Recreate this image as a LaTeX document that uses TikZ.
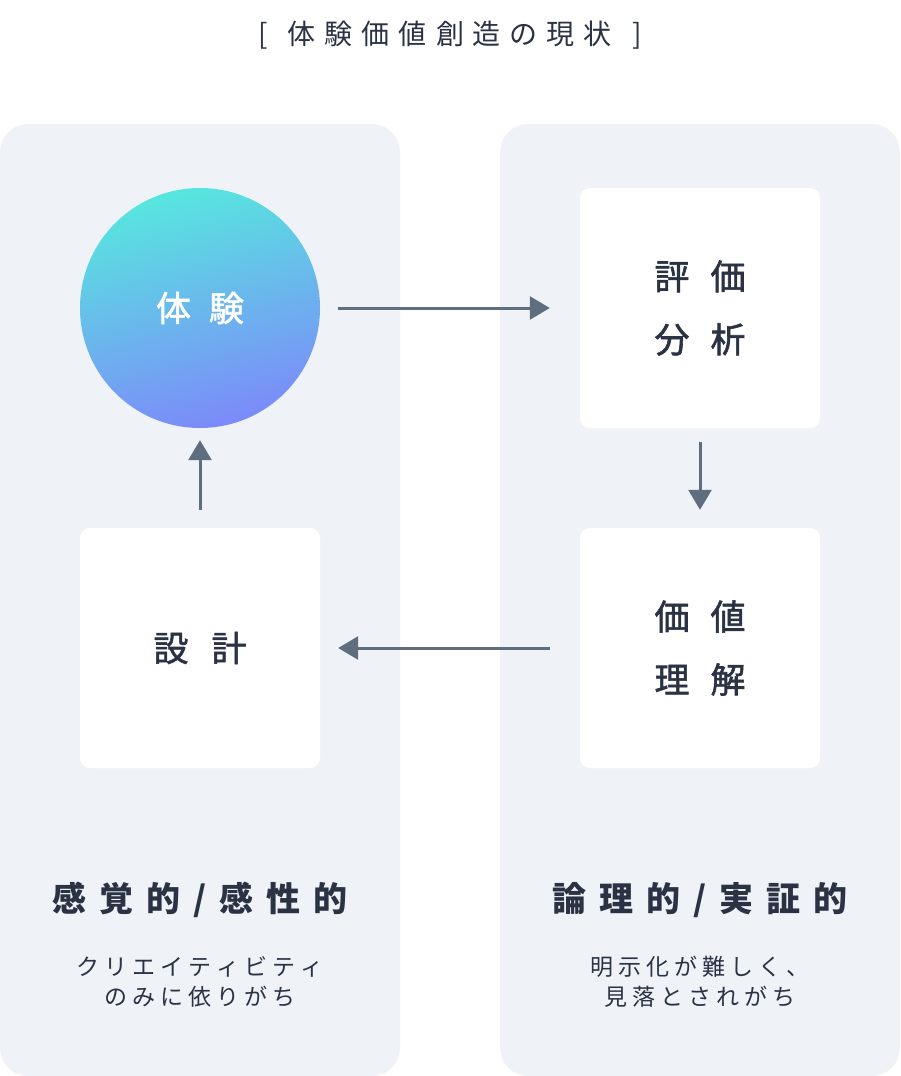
\documentclass[tikz,border=0pt]{standalone}
\usepackage{fontspec}
\setmainfont{Noto Sans CJK JP}
\newfontfamily\jpmid[FakeBold=1.6]{Noto Sans CJK JP}
\usetikzlibrary{arrows.meta}
\definecolor{panel}{HTML}{EFF3F8}
\definecolor{ink}{HTML}{2A3244}
\definecolor{arrowc}{HTML}{5E6E7E}
\definecolor{cyanA}{HTML}{57E6DF}
\definecolor{violetA}{HTML}{7C8AF9}
\makeatletter
\newcommand\spc[2]{\def\spc@sep{\hspace*{#1}}\spc@first#2\spc@end}
\def\spc@first#1{#1\spc@next}
\def\spc@next#1{\ifx#1\spc@end\else\spc@sep#1\expandafter\spc@next\fi}
\makeatother
\tikzset{
  panelbg/.style={fill=panel, rounded corners=28pt},
  wbox/.style={rectangle, fill=white, rounded corners=10pt, minimum width=240pt, minimum height=240pt, text=ink, align=center, font=\jpmid\fontsize{35}{63}\selectfont},
  expcircle/.style={circle, minimum size=240pt, inner sep=0pt, top color=cyanA, bottom color=violetA, shading angle=15, text=white, font=\jpmid\fontsize{35}{40}\selectfont},
  conn/.style={draw=arrowc, line width=3pt, -{Triangle[width=23pt,length=20pt]}},
  heading/.style={text=ink, font=\fontsize{34}{40}\selectfont\bfseries},
  subtext/.style={text=ink, align=center, font=\fontsize{23}{30}\selectfont},
  titletext/.style={text=ink, font=\fontsize{28}{30}\selectfont}
}
\begin{document}
\begin{tikzpicture}[x=1pt,y=-1pt]
\useasboundingbox (0,0) rectangle (900,1076);
\fill[panelbg] (0,124) rectangle (400,1076);
\fill[panelbg] (500,124) rectangle (900,1076);
\node[titletext] (title) at (450,35) {[\hspace*{20pt}\spc{9pt}{体験価値創造の現状}\hspace*{20pt}]};
\node[expcircle] (exp) at (200,308) {\spc{18pt}{体験}};
\node[wbox] (eval) at (700,308) {\spc{21pt}{評価}\\\spc{21pt}{分析}};
\node[wbox] (value) at (700,648) {\spc{21pt}{価値}\\\spc{21pt}{理解}};
\node[wbox] (design) at (200,648) {\spc{23pt}{設計}};
\draw[conn, shorten <=18pt, shorten >=30pt] (exp) -- (eval);
\draw[conn, shorten <=14pt, shorten >=18pt] (eval) -- (value);
\draw[conn, shorten <=30pt, shorten >=18pt] (value) -- (design);
\draw[conn, shorten <=18pt, shorten >=12pt] (design) -- (exp);
\node[heading] (lefthead) at (200,900) {\spc{13pt}{感覚的/感性的}};
\node[subtext] (leftsub) at (200,982) {\spc{5pt}{クリエイティビティ}\\\spc{5pt}{のみに依りがち}};
\node[heading] (righthead) at (700,900) {\spc{13pt}{論理的/実証的}};
\node[subtext] (rightsub) at (700,982) {\spc{5pt}{明示化が難しく、}\\\spc{5pt}{見落とされがち}};
\end{tikzpicture}
\end{document}
